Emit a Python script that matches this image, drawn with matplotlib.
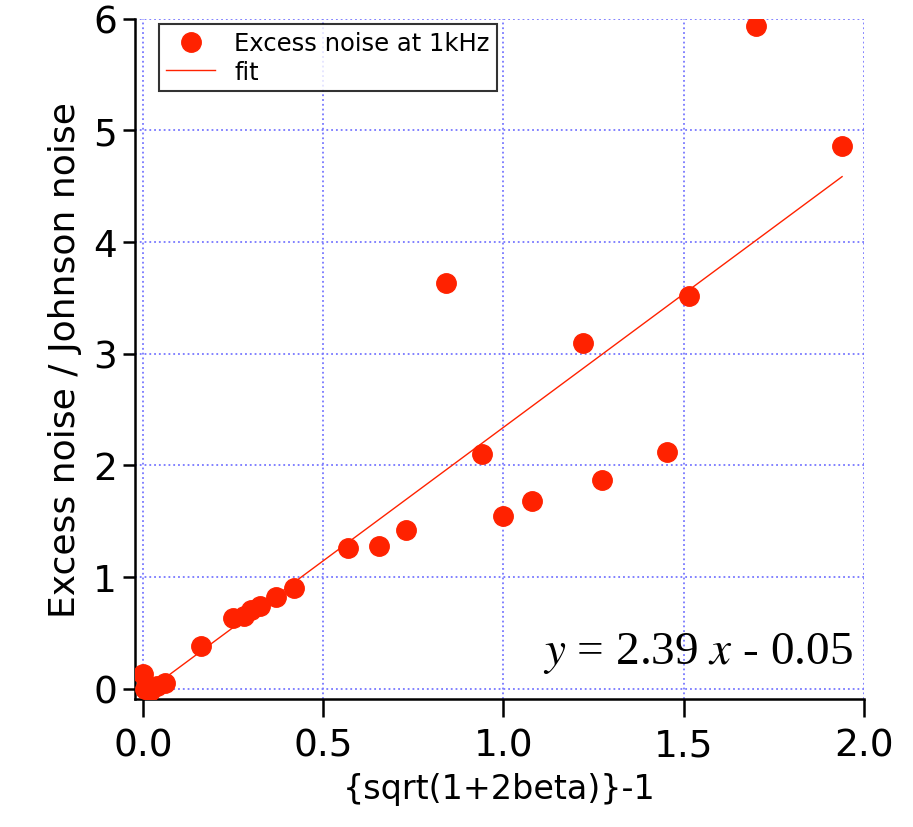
import numpy as np
import matplotlib.pyplot as plt

# data
x_pts = [0.0, 0.005, 0.02, 0.04, 0.06, 0.16, 0.25, 0.28, 0.30, 0.325, 0.37, 0.42,
         0.57, 0.655, 0.73, 0.84, 0.94, 1.00, 1.08, 1.22, 1.275, 1.455, 1.515, 1.70, 1.94]
y_pts = [0.13, 0.0, -0.02, 0.02, 0.05, 0.38, 0.63, 0.65, 0.70, 0.74, 0.82, 0.90,
         1.26, 1.28, 1.42, 3.63, 2.10, 1.55, 1.68, 3.10, 1.87, 2.12, 3.52, 5.94, 4.86]
slope = 2.39
intercept = -0.05
fit_x = [0.0, 1.94]

red = '#ff2200'
plt.rcParams['mathtext.fontset'] = 'stix'

fig = plt.figure(figsize=(9.13, 8.28), dpi=100)
ax = fig.add_axes([0.148, 0.155, 0.798, 0.821])

ax.plot(x_pts, y_pts, 'o', color=red, markersize=14, label='Excess noise at 1kHz', zorder=3)
fx = np.array(fit_x)
ax.plot(fx, slope * fx + intercept, '-', color=red, lw=1, label='fit', zorder=2)

ax.set_xlim(-0.022, 2.0)
ax.set_ylim(-0.09, 6.0)
ax.set_xticks([0.0, 0.5, 1.0, 1.5, 2.0])
ax.set_xticklabels(['0.0', '0.5', '1.0', '1.5', '2.0'])
ax.set_yticks(range(7))

ax.grid(True, color='#7777ff', linestyle=':', linewidth=1.3)
ax.set_axisbelow(True)
for s in ['top', 'right']:
    ax.spines[s].set_visible(False)
for s in ['left', 'bottom']:
    ax.spines[s].set_linewidth(1.8)
ax.tick_params(axis='x', direction='out', length=13, width=1.8, labelsize=27, pad=8)
ax.tick_params(axis='y', direction='out', length=9, width=1.8, labelsize=27, pad=4)

ax.set_xlabel('{sqrt(1+2beta)}-1', fontsize=24, labelpad=6)
ax.set_ylabel('Excess noise / Johnson noise', fontsize=26, labelpad=8)

leg = ax.legend(loc='upper left', fontsize=17.5, frameon=True, fancybox=False,
                edgecolor='black', borderpad=0.3, handlelength=2.0,
                bbox_to_anchor=(0.026, 1.0), labelspacing=0.2, borderaxespad=0.2)
leg.get_frame().set_linewidth(1.5)

ax.text(0.985, 0.035, r'$y$ = 2.39 $x$ - 0.05', transform=ax.transAxes,
        ha='right', va='bottom', fontsize=34, family='Liberation Serif')

fig.savefig('out.png', dpi=100)
